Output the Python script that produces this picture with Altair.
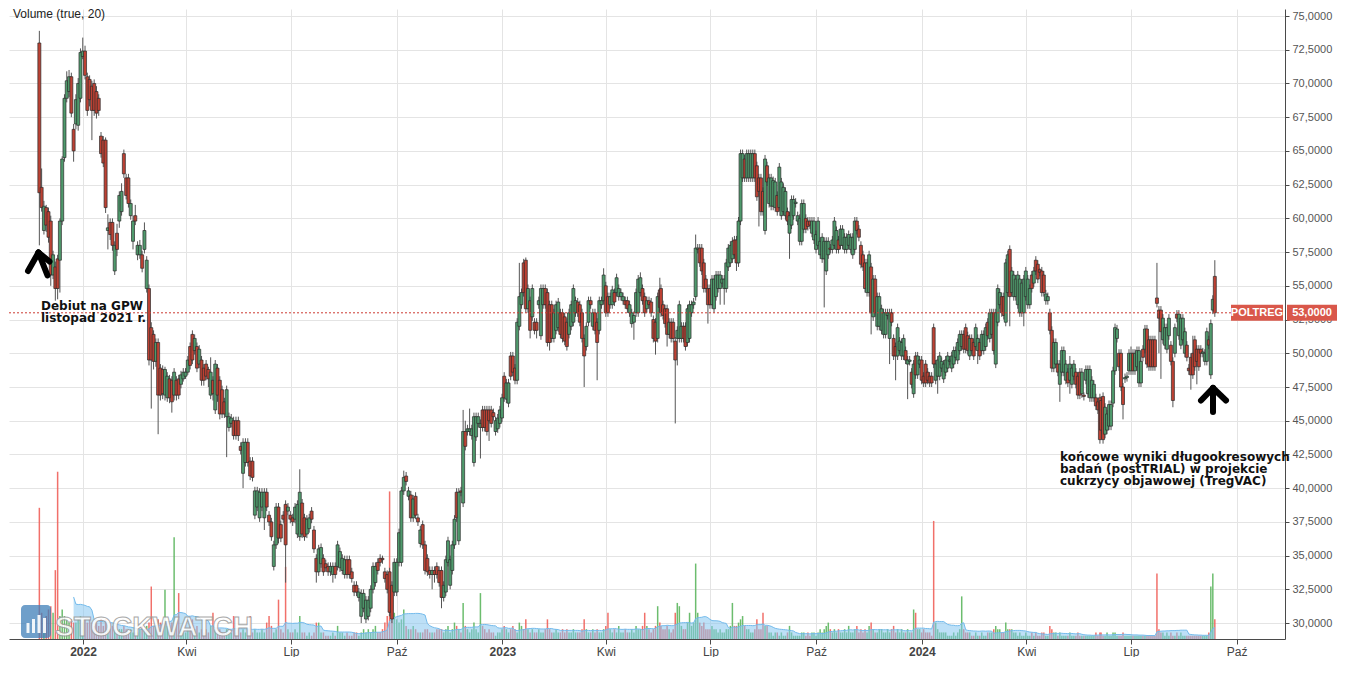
import pandas as pd
import altair as alt

# ---------------- data ----------------
# six consecutive stretches of the price history; candles are evenly spaced in time inside each stretch
SEG_DATES = [
    ("2021-11-24", "2022-05-08"),
    ("2022-05-10", "2022-11-07"),
    ("2022-11-09", "2023-05-18"),
    ("2023-05-19", "2023-11-25"),
    ("2023-11-27", "2024-06-04"),
    ("2024-06-05", "2024-09-12"),
]

O1 = [73.0, 62.3, 59.1, 60.8, 60.5, 59.8, 55.8, 56.4, 57.0, 56.9,
      59.8, 64.5, 68.9, 69.4, 70.5, 66.6, 67.0, 66.9, 68.9, 72.0,
      72.4, 70.5, 70.3, 69.8, 70.0, 69.4, 68.9, 66.1, 65.8, 65.8,
      59.1, 59.7, 59.7, 56.1, 58.9, 59.8, 60.5, 64.8, 63.0, 63.0,
      60.2, 58.3, 60.2, 57.3, 57.3, 57.3, 57.7, 54.8, 54.8, 51.9,
      51.4, 49.4, 50.8, 48.9, 48.8, 46.9, 46.7, 48.1, 48.0, 46.9,
      48.0, 48.1, 47.7, 48.1, 48.3, 48.6, 50.5, 51.4, 50.2, 50.5,
      49.2, 49.5, 48.9, 49.2, 48.8, 46.9, 48.0, 45.8, 48.9, 48.0,
      47.3, 46.4, 45.3, 44.5]
H1 = [73.9, 63.7, 61.3, 61.0, 60.8, 60.2, 57.6, 56.8, 57.3, 60.0,
      64.6, 69.2, 70.9, 71.0, 70.8, 67.0, 69.2, 70.4, 72.6, 73.4,
      72.8, 70.8, 70.6, 70.2, 70.3, 69.8, 69.2, 66.4, 66.1, 66.0,
      60.3, 60.0, 60.0, 58.3, 59.6, 62.0, 62.6, 65.1, 63.3, 63.3,
      61.4, 60.2, 61.0, 58.3, 58.4, 57.6, 59.7, 57.2, 55.1, 52.3,
      51.7, 51.1, 51.1, 49.2, 49.1, 49.0, 48.6, 48.4, 48.3, 48.9,
      48.3, 48.4, 48.7, 48.9, 48.9, 49.8, 50.8, 51.7, 51.4, 50.8,
      50.6, 49.8, 49.2, 49.5, 49.0, 49.7, 48.3, 49.5, 49.2, 48.3,
      47.6, 46.7, 47.6, 45.6]
L1 = [58.0, 60.5, 58.8, 59.0, 58.2, 55.0, 55.5, 53.9, 54.0, 54.5,
      59.5, 64.2, 68.6, 69.0, 67.5, 64.2, 66.6, 66.5, 68.6, 71.8,
      70.3, 67.6, 68.3, 65.8, 67.6, 67.4, 67.6, 64.5, 63.8, 60.4,
      57.7, 58.4, 57.6, 55.8, 57.2, 59.3, 60.2, 63.0, 61.4, 60.8,
      59.9, 57.7, 59.5, 56.9, 57.0, 56.0, 57.4, 54.5, 49.1, 45.9,
      48.8, 49.0, 44.0, 46.5, 46.6, 46.5, 46.4, 46.3, 45.6, 46.5,
      46.5, 46.6, 47.4, 47.9, 48.1, 48.4, 48.8, 49.2, 49.9, 48.6,
      48.9, 47.6, 47.6, 48.0, 47.5, 46.6, 46.5, 45.5, 46.4, 45.1,
      45.2, 45.2, 42.3, 44.2]
C1 = [61.9, 60.8, 60.9, 59.5, 58.6, 55.8, 57.3, 54.8, 54.8, 59.8,
      64.4, 68.9, 70.2, 70.5, 67.8, 65.0, 68.8, 70.0, 72.3, 72.4,
      70.6, 68.0, 68.8, 68.0, 68.0, 67.8, 68.0, 64.8, 64.1, 60.8,
      59.3, 58.8, 58.0, 58.0, 57.7, 61.7, 62.0, 63.3, 61.7, 61.1,
      61.1, 59.8, 59.8, 58.0, 58.0, 56.3, 59.1, 56.9, 49.5, 49.5,
      49.4, 50.8, 46.9, 46.9, 47.0, 48.8, 48.3, 46.7, 46.4, 48.6,
      46.9, 46.9, 48.4, 48.6, 48.6, 49.5, 49.1, 49.5, 51.1, 48.9,
      50.3, 48.0, 48.0, 48.3, 48.1, 48.6, 47.0, 49.2, 46.9, 45.5,
      45.5, 45.5, 47.3, 45.3]
V1 = [40, 8, 6, 7, 9, 10, 8, 21, 51, 7,
      9, 7, 6, 5, 6, 5, 5, 6, 7, 5,
      6, 5, 6, 5, 4, 5, 4, 6, 4, 6,
      3, 3, 4, 3, 2, 3, 3, 4, 3, 2,
      3, 2, 2, 2, 3, 4, 3, 4, 5, 16,
      4, 4, 6, 5, 5, 15, 4, 3, 5, 31,
      5, 14, 3, 2, 2, 3, 4, 6, 3, 4,
      2, 3, 2, 3, 2, 4, 8, 3, 2, 3,
      2, 2, 3, 2]

O2 = [44.8, 45.0, 45.0, 45.0, 43.1, 41.1, 41.9, 43.4, 42.0, 42.0,
      38.0, 38.6, 37.8, 38.6, 37.8, 39.7, 38.0, 37.5, 34.2, 35.8,
      38.6, 37.3, 38.0, 38.8, 38.3, 38.0, 37.8, 37.7, 36.6, 36.4,
      38.9, 37.8, 36.6, 37.0, 38.3, 36.9, 34.8, 33.8, 34.4, 34.8,
      34.4, 34.2, 33.8, 33.6, 34.2, 34.2, 34.1, 33.9, 33.6, 34.7,
      34.7, 33.8, 32.8, 32.8, 31.9, 30.5, 31.1, 30.3, 30.5, 31.1,
      32.5, 33.0, 34.5, 34.8, 34.8, 33.8, 33.6, 33.8, 32.8, 32.3,
      32.3, 34.5, 34.5, 39.8, 40.9, 39.4, 39.5, 37.8, 39.4, 37.8,
      35.9, 37.3, 35.8, 34.8, 33.9, 33.6, 33.9, 34.2, 33.9]
H2 = [45.5, 45.3, 45.3, 45.3, 43.4, 43.7, 43.7, 43.7, 42.3, 42.3,
      40.1, 40.1, 40.0, 40.0, 40.0, 40.0, 38.3, 37.8, 36.1, 38.9,
      38.9, 37.6, 38.3, 39.1, 38.9, 38.3, 38.1, 38.9, 39.1, 41.4,
      39.2, 38.1, 38.0, 38.1, 38.6, 37.2, 35.1, 35.8, 35.9, 35.1,
      34.7, 34.5, 34.5, 34.5, 34.5, 36.1, 35.6, 35.1, 35.0, 35.0,
      35.0, 34.1, 33.1, 33.1, 32.6, 32.5, 32.5, 32.0, 32.0, 32.8,
      34.5, 34.5, 34.8, 35.1, 35.0, 34.1, 33.9, 34.1, 33.1, 34.8,
      34.8, 37.0, 40.1, 41.3, 41.2, 40.1, 39.8, 39.5, 39.7, 38.1,
      37.2, 37.6, 36.1, 35.1, 34.2, 34.2, 34.2, 34.5, 34.2]
L2 = [44.5, 43.6, 43.6, 43.5, 42.5, 40.0, 41.6, 41.6, 40.6, 40.5,
      37.7, 38.3, 37.5, 38.3, 36.9, 38.3, 37.2, 36.1, 33.9, 35.5,
      35.9, 36.0, 37.4, 33.0, 38.0, 37.4, 37.2, 37.4, 36.3, 36.1,
      36.3, 36.1, 36.3, 36.7, 37.4, 35.2, 33.0, 33.5, 34.1, 33.5,
      33.8, 33.5, 33.5, 33.0, 33.3, 33.9, 33.8, 33.6, 33.3, 33.3,
      33.3, 33.0, 32.0, 32.0, 31.6, 30.0, 30.8, 30.0, 30.2, 30.8,
      32.2, 32.7, 33.6, 34.2, 34.4, 33.0, 32.2, 30.5, 30.0, 32.0,
      32.0, 34.2, 34.2, 39.5, 40.2, 39.1, 37.5, 37.5, 37.7, 37.2,
      35.6, 35.5, 33.6, 33.5, 33.3, 32.5, 33.0, 33.3, 32.7]
C2 = [45.2, 43.9, 43.9, 43.9, 42.8, 43.4, 43.4, 41.9, 40.9, 40.8,
      39.8, 39.8, 39.7, 39.7, 39.7, 38.6, 37.5, 36.4, 35.8, 38.6,
      36.3, 36.3, 37.7, 35.8, 38.6, 37.7, 37.5, 38.6, 38.8, 39.7,
      36.6, 36.4, 37.7, 37.8, 37.7, 35.5, 33.8, 35.5, 35.6, 33.8,
      34.1, 33.8, 34.2, 34.2, 33.6, 35.8, 35.3, 34.8, 34.7, 33.6,
      33.6, 33.3, 32.3, 32.3, 32.3, 32.2, 32.2, 31.7, 31.7, 32.5,
      34.2, 34.2, 33.9, 34.5, 34.7, 33.3, 32.5, 30.8, 30.3, 34.5,
      34.5, 36.7, 39.8, 40.8, 40.5, 39.8, 37.8, 39.2, 38.0, 37.5,
      36.9, 35.8, 33.9, 33.8, 33.6, 33.9, 33.6, 33.6, 33.0]
V2 = [2, 7, 2, 3, 2, 3, 2, 3, 7, 2,
      3, 2, 2, 3, 2, 5, 7, 4, 2, 3,
      12, 3, 2, 22, 3, 2, 2, 3, 2, 7,
      2, 2, 1, 2, 1, 2, 5, 5, 2, 2,
      1, 1, 1, 2, 1, 4, 2, 2, 1, 2,
      1, 1, 2, 2, 1, 2, 3, 2, 3, 2,
      3, 4, 2, 2, 3, 5, 7, 45, 12, 8,
      6, 5, 6, 9, 4, 3, 3, 4, 3, 2,
      2, 2, 3, 3, 2, 2, 2, 3, 3]

O3 = [33.9, 31.9, 32.3, 34.5, 32.8, 33.9, 35.8, 39.7, 36.1, 39.8,
      38.9, 44.2, 44.2, 44.2, 43.9, 41.9, 43.8, 44.8, 44.5, 45.8,
      45.8, 45.8, 45.8, 45.8, 45.6, 44.2, 44.4, 44.8, 45.2, 48.3,
      46.6, 46.3, 49.8, 49.8, 48.9, 48.0, 52.0, 53.6, 56.7, 56.9,
      53.3, 53.9, 52.7, 52.3, 52.3, 53.6, 51.3, 53.6, 54.8, 54.5,
      53.6, 53.6, 51.1, 51.7, 51.9, 53.0, 53.0, 52.7, 52.3, 51.4,
      52.0, 52.3, 53.0, 53.8, 53.6, 53.0, 51.1, 50.5, 52.3, 53.9,
      52.0, 53.0, 52.3, 51.7, 53.6, 53.9, 55.0, 54.2, 53.6, 53.6,
      54.5, 54.5, 54.2, 54.2, 53.9, 53.9, 53.9, 53.0, 52.2, 52.3,
      53.0, 53.0, 54.5, 54.8, 54.2, 53.3, 53.9, 53.8, 52.5, 52.3,
      51.1, 54.7]
H3 = [34.2, 33.1, 35.0, 36.4, 35.0, 36.1, 38.0, 40.0, 40.0, 40.1,
      45.8, 45.0, 44.7, 45.9, 44.7, 45.6, 45.6, 45.6, 45.1, 46.1,
      46.1, 46.1, 46.1, 46.1, 45.9, 45.3, 45.5, 46.1, 47.0, 48.6,
      48.1, 48.1, 50.1, 50.1, 49.2, 52.6, 56.7, 54.8, 57.0, 57.1,
      55.1, 54.2, 55.1, 52.6, 52.6, 54.2, 55.1, 55.1, 55.1, 54.8,
      53.9, 53.9, 53.3, 53.9, 54.1, 53.3, 53.3, 53.0, 52.6, 53.3,
      53.9, 55.1, 54.2, 54.1, 53.9, 53.3, 51.4, 52.3, 54.2, 54.2,
      53.3, 53.3, 52.6, 54.2, 54.2, 56.3, 55.3, 54.5, 54.5, 55.0,
      54.8, 55.9, 55.1, 54.8, 54.5, 54.2, 54.2, 53.9, 53.3, 53.1,
      54.8, 55.8, 56.0, 55.1, 54.5, 54.2, 54.2, 54.1, 52.8, 52.6,
      54.5, 55.6]
L3 = [31.1, 31.6, 32.0, 34.2, 32.5, 33.6, 35.5, 37.5, 35.8, 39.4,
      38.6, 42.8, 43.9, 43.9, 43.6, 41.6, 43.5, 44.5, 42.2, 44.2,
      44.2, 43.9, 43.5, 44.5, 45.0, 43.9, 44.1, 44.5, 44.9, 46.4,
      46.3, 46.0, 48.0, 48.3, 47.7, 47.7, 51.7, 53.3, 54.2, 53.0,
      53.0, 51.1, 52.4, 51.4, 51.1, 53.3, 51.0, 53.3, 53.3, 50.5,
      50.2, 50.8, 50.8, 51.4, 51.6, 51.1, 50.8, 50.6, 50.2, 51.1,
      51.7, 52.0, 52.7, 52.7, 52.0, 50.8, 47.5, 50.2, 52.0, 53.3,
      51.7, 51.4, 48.0, 51.4, 53.3, 53.6, 52.7, 52.7, 53.3, 53.3,
      53.5, 54.2, 53.9, 53.9, 53.6, 53.3, 53.0, 52.7, 51.9, 51.0,
      52.7, 52.7, 54.2, 53.6, 52.7, 53.0, 53.3, 52.7, 50.8, 49.9,
      50.8, 53.1]
C3 = [31.9, 32.8, 34.7, 36.1, 34.7, 35.8, 37.7, 37.8, 39.7, 39.7,
      44.2, 43.1, 44.4, 44.4, 44.4, 45.3, 45.3, 45.3, 44.8, 44.5,
      44.5, 44.2, 45.0, 44.8, 45.3, 45.0, 45.2, 45.8, 46.7, 46.7,
      47.8, 47.8, 48.3, 48.6, 48.0, 52.3, 54.2, 54.5, 54.5, 53.3,
      54.8, 51.7, 54.8, 51.7, 51.7, 53.9, 54.8, 54.8, 53.6, 50.8,
      50.8, 51.1, 53.0, 53.6, 53.8, 51.4, 51.1, 50.9, 50.5, 53.0,
      53.6, 54.8, 53.9, 53.0, 52.3, 51.1, 49.8, 52.0, 53.9, 53.6,
      53.0, 51.7, 50.8, 53.9, 53.9, 55.8, 53.0, 53.0, 54.2, 54.7,
      53.8, 55.6, 54.8, 54.5, 54.2, 53.6, 53.3, 53.6, 53.0, 52.8,
      54.5, 55.5, 55.6, 53.9, 53.0, 53.9, 53.6, 53.0, 51.1, 50.9,
      54.2, 53.4]
V3 = [3, 2, 3, 4, 2, 3, 5, 4, 3, 2,
      11, 4, 3, 2, 3, 5, 3, 2, 14, 4,
      3, 2, 3, 2, 2, 1, 2, 2, 3, 4,
      3, 2, 3, 4, 3, 2, 5, 4, 3, 6,
      3, 2, 3, 2, 2, 3, 2, 2, 3, 6,
      3, 2, 2, 3, 2, 2, 3, 2, 3, 2,
      2, 3, 2, 2, 2, 3, 6, 3, 2, 2,
      3, 2, 3, 2, 2, 3, 4, 8, 3, 2,
      3, 2, 4, 2, 2, 3, 2, 2, 3, 2,
      4, 3, 3, 4, 8, 4, 3, 2, 3, 4,
      10, 5]

O4 = [54.8, 53.6, 53.3, 53.3, 51.4, 52.3, 52.3, 50.9, 51.1, 51.1,
      51.1, 52.0, 52.0, 50.8, 51.1, 53.0, 53.6, 54.2, 57.7, 57.8,
      57.8, 56.7, 55.5, 54.8, 54.8, 53.6, 53.3, 54.2, 54.8, 54.8,
      55.2, 54.8, 54.8, 56.4, 56.7, 57.0, 58.4, 58.4, 56.7, 59.8,
      63.0, 64.4, 63.0, 63.0, 63.0, 63.0, 64.8, 63.9, 63.0, 63.0,
      62.0, 59.1, 63.9, 61.1, 60.9, 60.9, 60.8, 61.7, 60.8, 60.2,
      60.5, 60.2, 60.5, 58.9, 59.5, 60.2, 61.1, 59.8, 58.3, 58.3,
      59.2, 60.0, 59.8, 59.8, 58.9, 58.4, 57.7, 58.0, 57.3, 57.0,
      57.0, 56.1, 57.3, 57.8, 57.7, 58.0, 57.7, 58.4, 58.0, 58.0,
      57.7, 57.7, 58.0, 57.7, 57.3, 57.7, 59.8, 59.2, 58.0, 57.3,
      56.7, 54.5, 54.5, 56.4, 52.7, 55.5, 52.0, 52.0]
H4 = [55.1, 53.9, 53.6, 53.6, 52.6, 52.6, 52.6, 51.2, 52.0, 53.9,
      52.3, 52.3, 52.3, 53.6, 53.9, 53.9, 54.1, 58.8, 58.1, 58.1,
      58.1, 57.0, 55.8, 55.1, 55.1, 55.8, 55.8, 56.1, 56.1, 56.1,
      55.8, 55.8, 57.0, 58.1, 58.3, 58.6, 58.7, 58.7, 60.1, 65.1,
      65.1, 64.7, 65.1, 65.1, 65.1, 65.1, 65.1, 64.2, 63.3, 63.3,
      62.3, 64.7, 64.2, 63.3, 63.3, 63.1, 63.0, 62.0, 64.1, 63.0,
      62.6, 62.3, 60.8, 60.5, 61.7, 61.7, 61.5, 60.5, 60.3, 61.4,
      61.4, 60.3, 60.1, 60.1, 60.1, 60.1, 59.1, 60.1, 58.6, 58.9,
      58.6, 58.6, 58.6, 58.1, 58.7, 60.1, 59.4, 58.7, 59.5, 59.5,
      58.9, 58.9, 59.1, 58.9, 58.9, 60.1, 60.1, 59.5, 58.3, 57.6,
      57.0, 57.0, 57.6, 56.7, 55.8, 55.8, 54.5, 54.5]
L4 = [52.7, 52.5, 51.9, 50.5, 51.1, 50.8, 50.8, 44.8, 49.1, 50.8,
      50.8, 50.8, 50.2, 50.5, 50.8, 52.7, 53.3, 53.9, 57.4, 56.4,
      55.8, 54.5, 54.5, 52.2, 53.3, 53.3, 53.0, 53.9, 54.5, 53.6,
      54.9, 53.6, 54.5, 56.1, 56.4, 56.7, 57.0, 56.1, 56.4, 59.5,
      62.7, 62.7, 62.7, 62.7, 62.7, 62.7, 62.7, 61.3, 59.4, 60.2,
      60.2, 58.8, 62.4, 60.8, 60.6, 60.6, 60.5, 60.2, 60.5, 59.9,
      60.2, 59.9, 59.5, 57.0, 59.2, 59.9, 60.8, 59.5, 58.0, 58.0,
      58.9, 58.9, 59.1, 59.2, 58.6, 58.1, 57.4, 57.7, 57.0, 56.7,
      53.4, 55.8, 57.0, 57.4, 57.4, 57.7, 57.4, 57.4, 57.7, 57.7,
      57.4, 57.4, 57.7, 57.4, 57.0, 57.4, 58.8, 58.3, 56.3, 56.1,
      54.5, 54.2, 54.2, 51.4, 52.4, 52.7, 51.7, 51.7]
C4 = [53.0, 52.8, 52.2, 51.4, 52.3, 51.1, 51.1, 49.5, 51.7, 53.6,
      52.0, 51.1, 50.5, 53.3, 53.6, 53.6, 53.8, 57.8, 57.8, 56.7,
      56.1, 54.8, 54.8, 53.6, 53.6, 55.5, 55.5, 55.8, 55.8, 55.8,
      55.5, 55.5, 56.7, 57.8, 58.0, 58.3, 57.3, 56.7, 59.8, 64.8,
      64.8, 63.0, 64.8, 64.8, 64.8, 64.8, 63.0, 61.6, 62.0, 60.5,
      60.5, 64.4, 62.7, 63.0, 63.0, 62.8, 62.7, 60.5, 63.8, 62.7,
      62.3, 62.0, 59.8, 60.2, 61.4, 61.4, 61.2, 60.2, 60.0, 61.1,
      61.1, 59.2, 59.4, 59.5, 59.8, 59.8, 58.8, 59.8, 58.3, 58.6,
      58.3, 58.3, 58.3, 57.7, 58.4, 59.8, 59.1, 57.7, 59.2, 59.2,
      58.6, 58.6, 58.8, 58.6, 58.6, 59.8, 59.1, 58.6, 56.6, 56.4,
      54.8, 56.7, 57.3, 53.0, 55.5, 53.0, 54.2, 54.2]
V4 = [4, 3, 3, 4, 3, 2, 3, 8, 11, 10,
      4, 3, 3, 5, 8, 4, 5, 23, 8, 5,
      4, 5, 3, 3, 3, 4, 3, 3, 2, 3,
      2, 2, 3, 3, 4, 11, 4, 4, 5, 6,
      7, 4, 3, 3, 2, 2, 3, 6, 3, 3,
      8, 4, 4, 2, 2, 1, 2, 2, 1, 2,
      1, 1, 2, 4, 2, 1, 1, 1, 1, 2,
      2, 1, 2, 1, 2, 2, 1, 2, 3, 2,
      3, 4, 5, 3, 2, 3, 2, 3, 2, 2,
      3, 2, 4, 2, 2, 3, 4, 2, 3, 2,
      3, 2, 4, 5, 3, 2, 2, 3]

O5 = [51.7, 51.4, 51.4, 52.8, 51.1, 53.0, 51.1, 50.5, 49.8, 50.2,
      49.8, 49.8, 50.2, 49.2, 49.4, 48.6, 47.0, 49.8, 48.4, 49.2,
      49.5, 48.3, 49.2, 48.6, 48.3, 48.3, 51.9, 48.0, 48.3, 48.3,
      48.9, 48.1, 48.6, 48.9, 49.4, 48.9, 49.2, 49.7, 49.5, 50.2,
      50.5, 51.4, 51.9, 51.3, 49.8, 51.1, 50.8, 50.5, 50.2, 50.8,
      50.2, 50.2, 50.5, 52.3, 51.1, 51.4, 53.0, 49.2, 52.3, 53.6,
      54.2, 54.2, 52.3, 54.5, 57.7, 54.5, 54.2, 54.2, 53.6, 53.0,
      53.0, 53.0, 54.2, 53.6, 53.6, 55.8, 55.2, 56.9, 56.6, 56.2,
      56.1, 55.8, 53.9, 53.9, 53.0, 51.7, 48.9, 49.2, 49.2, 47.7,
      48.6, 48.6, 48.0, 48.6, 48.0, 47.7, 48.3, 48.6, 48.3, 48.6,
      47.0, 46.9, 48.0, 47.0, 46.7, 46.7, 46.7, 46.7, 46.4, 46.7]
H5 = [53.6, 53.3, 53.3, 53.3, 53.3, 53.3, 51.4, 50.8, 52.2, 51.2,
      51.1, 51.4, 50.5, 49.8, 49.8, 48.9, 49.5, 50.1, 50.1, 49.8,
      49.8, 48.6, 49.5, 48.9, 48.6, 48.6, 52.2, 49.5, 49.8, 50.1,
      49.7, 49.5, 49.8, 50.1, 49.8, 50.1, 50.5, 50.5, 51.1, 51.7,
      51.7, 51.7, 52.2, 51.6, 51.4, 51.4, 51.1, 52.2, 51.4, 51.1,
      51.7, 51.7, 52.2, 52.6, 53.3, 53.3, 53.3, 53.3, 55.1, 54.8,
      54.5, 54.5, 57.0, 57.6, 58.0, 56.4, 56.1, 55.8, 56.1, 55.8,
      55.5, 55.8, 56.4, 55.8, 55.1, 56.1, 56.4, 57.2, 56.9, 56.3,
      56.4, 56.1, 54.7, 54.5, 53.3, 52.0, 51.1, 51.1, 49.5, 49.5,
      50.5, 50.5, 49.5, 48.9, 49.8, 49.2, 49.5, 48.9, 48.6, 48.9,
      48.9, 47.1, 49.1, 49.1, 49.1, 48.3, 48.0, 47.0, 46.7, 47.0]
L5 = [51.4, 51.1, 51.1, 52.5, 49.2, 52.0, 49.5, 48.0, 49.5, 49.9,
      49.5, 49.5, 49.2, 46.6, 49.1, 47.4, 46.7, 48.1, 48.1, 48.9,
      47.7, 47.5, 47.5, 47.7, 47.5, 47.5, 48.9, 47.7, 47.0, 48.0,
      48.6, 47.8, 48.3, 48.6, 49.1, 48.6, 48.9, 49.4, 49.2, 49.9,
      50.2, 50.0, 50.0, 49.9, 49.5, 49.9, 49.5, 50.2, 49.2, 49.5,
      49.9, 49.9, 50.2, 51.0, 50.8, 51.1, 49.9, 48.9, 52.0, 53.3,
      52.7, 52.5, 52.0, 54.2, 52.0, 54.2, 53.9, 53.9, 53.3, 52.7,
      52.7, 52.0, 53.9, 53.3, 53.3, 54.5, 54.9, 55.8, 55.2, 55.7,
      54.2, 54.2, 53.6, 53.6, 51.4, 48.6, 48.6, 48.9, 48.3, 46.4,
      48.3, 48.3, 47.7, 47.5, 47.0, 47.4, 48.0, 47.4, 46.6, 46.6,
      46.7, 46.5, 47.7, 46.7, 46.4, 46.4, 46.4, 45.8, 45.5, 43.3]
C5 = [53.3, 53.0, 53.0, 53.0, 53.0, 52.3, 49.8, 49.8, 51.9, 50.9,
      50.8, 51.1, 49.5, 49.5, 49.5, 47.7, 49.2, 48.4, 49.8, 49.5,
      48.0, 47.8, 47.8, 48.0, 47.8, 47.8, 49.2, 49.2, 49.5, 49.8,
      49.4, 49.2, 49.5, 49.8, 49.5, 49.8, 50.2, 50.2, 50.8, 51.4,
      51.4, 50.3, 50.3, 50.2, 51.1, 50.2, 49.8, 51.9, 51.1, 49.8,
      51.4, 51.4, 51.9, 51.3, 53.0, 53.0, 50.2, 53.0, 54.8, 54.5,
      53.0, 52.8, 56.7, 57.3, 54.2, 56.1, 55.8, 55.5, 55.8, 55.5,
      55.2, 55.5, 56.1, 55.5, 54.8, 54.8, 56.1, 56.1, 55.5, 56.0,
      54.5, 54.5, 54.4, 54.2, 51.7, 48.9, 50.8, 50.8, 48.6, 49.2,
      50.2, 50.2, 49.2, 47.8, 49.2, 48.9, 49.2, 47.7, 46.9, 46.9,
      48.6, 46.8, 48.8, 48.8, 48.8, 48.0, 47.7, 46.1, 45.8, 43.6]
V5 = [3, 2, 2, 3, 2, 3, 4, 2, 3, 2,
      3, 2, 2, 3, 2, 2, 9, 8, 3, 3,
      2, 3, 2, 2, 2, 1, 36, 5, 3, 2,
      2, 2, 2, 1, 1, 1, 2, 1, 2, 3,
      13, 3, 2, 2, 2, 1, 1, 2, 1, 1,
      2, 1, 1, 2, 2, 2, 3, 4, 3, 3,
      2, 2, 5, 3, 3, 3, 2, 2, 1, 2,
      1, 1, 2, 1, 1, 2, 1, 2, 1, 1,
      2, 2, 1, 1, 4, 3, 2, 2, 1, 2,
      1, 1, 1, 1, 2, 1, 1, 1, 2, 1,
      1, 1, 1, 1, 1, 1, 1, 2, 1, 2]

O6 = [46.5, 46.8, 44.0, 44.3, 44.6, 44.6, 46.3, 48.7, 51.1, 50.0,
      50.0, 47.5, 48.1, 48.2, 48.7, 48.7, 50.0, 48.7, 49.0, 47.8,
      47.8, 50.3, 50.3, 51.8, 51.0, 51.0, 51.0, 51.0, 54.1, 53.2,
      53.2, 51.0, 50.6, 50.3, 51.3, 50.6, 49.4, 50.0, 52.9, 51.3,
      50.6, 51.0, 50.0, 50.6, 48.9, 49.7, 50.0, 51.0, 50.3, 50.3,
      50.3, 50.0, 49.4, 49.4, 51.0, 48.4, 53.2, 55.7]
H6 = [46.8, 47.1, 46.3, 45.8, 46.5, 46.5, 49.0, 52.2, 52.1, 50.3,
      50.3, 47.8, 48.5, 48.6, 50.3, 50.5, 50.3, 50.3, 50.5, 50.5,
      49.7, 50.6, 52.1, 52.1, 51.3, 51.3, 51.3, 51.3, 56.7, 53.5,
      53.5, 52.9, 52.2, 52.2, 52.9, 50.9, 49.7, 52.2, 53.2, 53.2,
      52.9, 52.9, 51.9, 50.9, 49.2, 50.0, 51.3, 51.3, 50.6, 50.6,
      50.6, 50.4, 50.3, 51.9, 51.3, 52.5, 54.3, 56.9]
L6 = [44.0, 43.3, 43.7, 44.0, 44.3, 44.3, 46.0, 48.4, 50.8, 48.7,
      47.2, 45.1, 47.8, 47.9, 48.4, 48.4, 48.4, 48.4, 48.7, 47.5,
      47.5, 49.4, 50.0, 48.9, 48.7, 48.7, 48.7, 48.7, 53.4, 50.0,
      48.1, 50.7, 50.3, 50.0, 51.0, 49.1, 46.0, 49.7, 52.3, 51.0,
      50.3, 50.7, 49.7, 49.4, 48.4, 47.3, 48.1, 48.7, 47.7, 48.7,
      49.7, 49.7, 49.1, 49.1, 50.3, 48.1, 52.9, 52.7]
C6 = [44.3, 43.6, 46.0, 45.5, 46.2, 46.2, 48.7, 51.9, 51.8, 49.0,
      47.5, 46.2, 48.2, 48.3, 50.0, 50.0, 48.7, 50.0, 50.2, 50.2,
      49.4, 49.7, 51.8, 49.2, 49.0, 49.0, 49.0, 49.0, 53.7, 52.6,
      51.6, 52.6, 51.9, 51.9, 52.6, 49.4, 46.5, 51.9, 52.6, 52.9,
      52.6, 52.6, 51.6, 49.7, 48.7, 48.4, 48.4, 49.0, 49.4, 49.0,
      50.0, 50.1, 50.0, 51.6, 50.6, 52.2, 54.0, 53.0]
V6 = [2, 1, 1, 2, 1, 1, 2, 2, 1, 1,
      1, 2, 1, 1, 1, 1, 1, 1, 1, 1,
      1, 1, 1, 1, 1, 1, 1, 1, 20, 3,
      2, 2, 1, 2, 1, 2, 1, 1, 2, 1,
      2, 1, 1, 1, 1, 1, 1, 1, 1, 1,
      1, 1, 1, 1, 2, 16, 20, 6]

TICKER = "POLTREG"
LAST_PRICE = 53.0
LAST_LABEL = "53,0000"
PRICE_TICKS = [30.0, 32.5, 35.0, 37.5, 40.0, 42.5, 45.0, 47.5, 50.0, 52.5,
               55.0, 57.5, 60.0, 62.5, 65.0, 67.5, 70.0, 72.5, 75.0]
X_TICK_MONTHS = [(2022, 1), (2022, 4), (2022, 7), (2022, 10),
                 (2023, 1), (2023, 4), (2023, 7), (2023, 10),
                 (2024, 1), (2024, 4), (2024, 7), (2024, 10)]
NOTE_LEFT = ["Debiut na GPW", "listopad 2021 r."]
NOTE_RIGHT = ["końcowe wyniki długookresowych", "badań (postTRIAL) w projekcie",
              "cukrzycy objawowej (TregVAC)"]
MA_WINDOW = 16  # candles covering ~20 sessions

# ---------------- table ----------------
SEGS = [(O1, H1, L1, C1, V1), (O2, H2, L2, C2, V2), (O3, H3, L3, C3, V3),
        (O4, H4, L4, C4, V4), (O5, H5, L5, C5, V5), (O6, H6, L6, C6, V6)]
frames = []
for (start, end), (o, h, l, c, v) in zip(SEG_DATES, SEGS):
    n = len(o)
    assert n == len(h) == len(l) == len(c) == len(v), (start, n, len(h), len(l), len(c), len(v))
    d = pd.date_range(start, end, periods=n)
    frames.append(pd.DataFrame({"date": d.strftime("%Y-%m-%dT%H:%M:%S"),
                                "open": o, "high": h, "low": l, "close": c, "vol": v}))
df = pd.concat(frames, ignore_index=True)

W, H = 1276, 630
GREEN, RED = "#4f9a6c", "#bd4133"
VGREEN, VRED = "#5cb65e", "#f0605a"
GRID = "#e4e4e4"
AXC = "#4a4a4a"

x_scale = alt.Scale(domain=[alt.DateTime(year=2021, month=10, date=28, hours=14),
                            alt.DateTime(year=2024, month=11, date=12, hours=2)],
                    padding=0)
x_axis = alt.Axis(
    values=[alt.DateTime(year=y, month=m, date=1) for y, m in X_TICK_MONTHS],
    labelExpr="month(datum.value) == 0 ? timeFormat(datum.value, '%Y') : "
              "(month(datum.value) == 3 ? 'Kwi' : (month(datum.value) == 6 ? 'Lip' : 'Paź'))",
    labelFontWeight={"condition": {"test": "month(datum.value) == 0", "value": "bold"},
                     "value": "normal"},
    title=None, grid=True, gridColor=GRID, domainColor=AXC, tickColor=AXC,
    tickSize=5, labelColor="#444", labelFont="Liberation Sans", labelFontSize=12,
    labelPadding=2, labelFlush=False, labelOverlap=False)
x_enc = alt.X("date:T", scale=x_scale, axis=x_axis)

price_scale = alt.Scale(domain=[28.82, 75.52], zero=False, nice=False, padding=0)
vol_scale = alt.Scale(domain=[0, 192.1], zero=True, nice=False, padding=0)
y_axis = alt.Axis(orient="right", values=PRICE_TICKS,
                  labelExpr="replace(format(datum.value, '.4f'), '.', ',')",
                  title=None, grid=True, gridColor=GRID, domainColor=AXC, tickColor=AXC,
                  tickSize=4, labelColor="#555", labelFont="Liberation Sans",
                  labelFontSize=11, labelPadding=3)

up = "datum.close >= datum.open"
base = alt.Chart(df)

vol_bars = base.mark_bar(width=1.5, opacity=0.9).encode(
    x=x_enc,
    y=alt.Y("vol:Q", scale=vol_scale, axis=None, stack=None),
    color=alt.condition(up, alt.value(VGREEN), alt.value(VRED)),
)
vol_ma = base.transform_window(
    ma_vol="mean(vol)", n_in="count()", frame=[-(MA_WINDOW - 1), 0]
).transform_filter(f"datum.n_in >= {MA_WINDOW}").mark_area(
    color="#86c6f1", opacity=0.55, line={"color": "#74bbec", "strokeWidth": 1}
).encode(x=x_enc, y=alt.Y("ma_vol:Q", scale=vol_scale, axis=None))

one = pd.DataFrame({"k": [0]})
wm_icon = alt.Chart(one).mark_rect(color="#3f7fb8", opacity=0.75, cornerRadius=4).encode(
    x=alt.value(12), x2=alt.value(42), y=alt.value(596), y2=alt.value(629))
wm_bar_layers = []
for bx, top in [(19, 614), (24.5, 610), (30, 606), (35.5, 609)]:
    wm_bar_layers.append(alt.Chart(one).mark_rule(color="white", strokeWidth=3, opacity=0.9).encode(
        x=alt.value(bx), y=alt.value(top), y2=alt.value(624)))
wm_text = alt.Chart(one).mark_text(
    text="STOCKWATCH", font="Liberation Sans", fontSize=28, fontWeight="bold",
    color="white", stroke="#9a9a9a", strokeWidth=1, opacity=0.85, align="left",
    baseline="alphabetic").encode(x=alt.value(46), y=alt.value(627))

wicks = base.mark_rule(color="#555555", strokeWidth=1).encode(
    x=x_enc, y=alt.Y("low:Q", scale=price_scale, axis=y_axis), y2="high:Q")
bodies = base.mark_bar(width=3, stroke="#2b2b2b", strokeWidth=0.7).encode(
    x=x_enc,
    y=alt.Y("open:Q", scale=price_scale, axis=None),
    y2="close:Q",
    fill=alt.condition(up, alt.value(GREEN), alt.value(RED)),
)

last = alt.Chart(pd.DataFrame({"p": [LAST_PRICE], "name": [TICKER], "lab": [LAST_LABEL]}))
last_rule = last.mark_rule(color="#cc3b33", strokeWidth=1, strokeDash=[2, 2]).encode(
    y=alt.Y("p:Q", scale=price_scale, axis=None), x=alt.value(0), x2=alt.value(W - 54))
name_box = last.mark_rect(color="#d9574a", yOffset=-8, y2Offset=8).encode(
    y=alt.Y("p:Q", scale=price_scale, axis=None), y2="p:Q",
    x=alt.value(W - 54), x2=alt.value(W - 2))
name_txt = last.mark_text(color="white", fontWeight="bold", fontSize=11,
                          font="Liberation Sans", align="center", baseline="middle").encode(
    y=alt.Y("p:Q", scale=price_scale, axis=None), x=alt.value(W - 28), text="name:N")
val_box = last.mark_rect(color="#d9574a", yOffset=-8, y2Offset=8).encode(
    y=alt.Y("p:Q", scale=price_scale, axis=None), y2="p:Q",
    x=alt.value(W + 2), x2=alt.value(W + 52))
val_txt = last.mark_text(color="white", fontWeight="bold", fontSize=11,
                         font="Liberation Sans", align="center", baseline="middle").encode(
    y=alt.Y("p:Q", scale=price_scale, axis=None), x=alt.value(W + 27), text="lab:N")

note_left = alt.Chart(one).mark_text(
    text=NOTE_LEFT, font="DejaVu Sans", fontSize=12, fontWeight="bold", color="#111111",
    align="left", baseline="alphabetic", lineHeight=12).encode(x=alt.value(32), y=alt.value(301))
note_right = alt.Chart(one).mark_text(
    text=NOTE_RIGHT, font="DejaVu Sans", fontSize=12, fontWeight="bold", color="#111111",
    align="left", baseline="alphabetic", lineHeight=12).encode(x=alt.value(1051), y=alt.value(452))
vol_label = alt.Chart(one).mark_text(
    text="Volume (true, 20)", font="Liberation Sans", fontSize=12, color="#222222",
    align="left", baseline="top").encode(x=alt.value(4), y=alt.value(0))

arrow_layers = []
ARROWS = [
    [((29.5, 243.5), (19, 262)), ((29.5, 243.5), (40.5, 252.5)), ((29.5, 243.5), (38.5, 266.5))],
    [((1204, 379), (1192, 391.5)), ((1204, 379), (1217, 391.5)), ((1204, 379), (1204, 403))],
]
for arrow in ARROWS:
    for (xa, ya), (xb, yb) in arrow:
        arrow_layers.append(alt.Chart(one).mark_rule(
            color="#000000", strokeWidth=6, strokeCap="round").encode(
            x=alt.value(xa), y=alt.value(ya), x2=alt.value(xb), y2=alt.value(yb)))

chart = alt.layer(
    vol_bars, vol_ma, wm_icon, *wm_bar_layers, wm_text,
    wicks, bodies, last_rule, name_box, name_txt, val_box, val_txt,
    note_left, note_right, vol_label, *arrow_layers,
).resolve_scale(y="independent").properties(
    width=W, height=H, padding=0
).configure_view(stroke=None)

chart.save("out.html", embed_options={"renderer": "svg", "actions": False})
